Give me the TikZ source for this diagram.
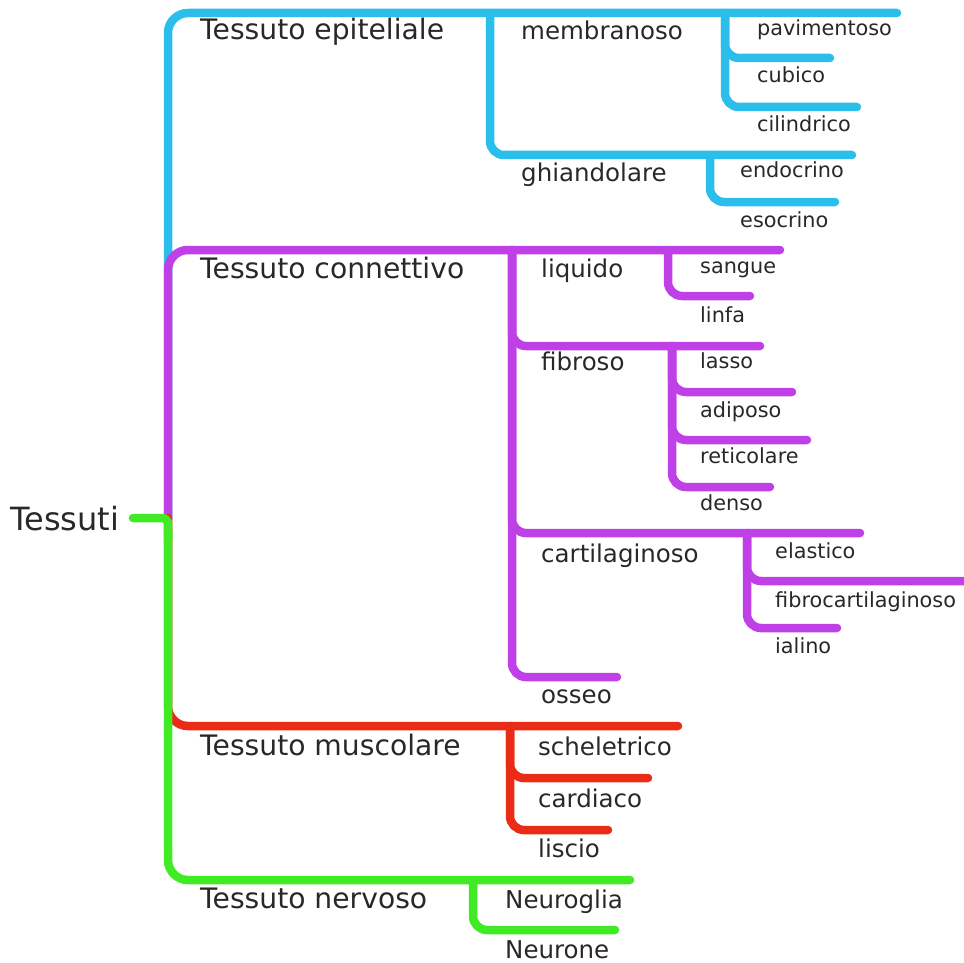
\documentclass[tikz,border=0pt]{standalone}
\usepackage{fontspec}
\setmainfont{DejaVu Sans}
\definecolor{cblue}{RGB}{44,190,234}
\definecolor{cpurple}{RGB}{190,64,230}
\definecolor{cred}{RGB}{234,44,22}
\definecolor{cgreen}{RGB}{64,234,36}
\definecolor{ctext}{RGB}{40,40,40}
\begin{document}
\begin{tikzpicture}[x=1pt,y=-1pt,
  br/.style={line width=8.5pt,line cap=round,rounded corners=14pt},
  brone/.style={br,rounded corners=20pt},
  lab/.style={anchor=base west,inner sep=0pt,text=ctext},
  lroot/.style={lab,font=\fontsize{32}{36}\selectfont},
  lone/.style={lab,font=\fontsize{28.2}{32}\selectfont},
  ltwo/.style={lab,font=\fontsize{24.5}{28}\selectfont},
  lthree/.style={lab,font=\fontsize{20.8}{24}\selectfont}]
\useasboundingbox (0,0) rectangle (964,963);
% junctions and line ends
\coordinate (stub) at (133,518);
\coordinate (J0) at (168,518);
\coordinate (J0r) at (168,518);
\coordinate (J0g) at (168,530);
\coordinate (J0s) at (168,540);
\coordinate (epiE) at (897,13);
\coordinate (memJ) at (490,13);
\coordinate (ghiE) at (852,155);
\coordinate (pavJ) at (725,13);
\coordinate (cubE) at (830,58);
\coordinate (cilE) at (857,107);
\coordinate (ghiJ) at (710,155);
\coordinate (esoE) at (835,202);
\coordinate (conE) at (780,250);
\coordinate (conJ) at (512,250);
\coordinate (liqJ) at (668,250);
\coordinate (linE) at (750,296);
\coordinate (fibE) at (760,346);
\coordinate (fibJ) at (672,346);
\coordinate (adiE) at (792,392);
\coordinate (retE) at (807,440);
\coordinate (denE) at (770,487);
\coordinate (carE) at (860,533);
\coordinate (carJ) at (747,533);
\coordinate (fcaE) at (968,581);
\coordinate (ialE) at (837,628);
\coordinate (ossE) at (617,677);
\coordinate (musE) at (678,726);
\coordinate (musJ) at (510,726);
\coordinate (carD) at (648,778);
\coordinate (lisE) at (608,830);
\coordinate (nerE) at (630,880);
\coordinate (nerJ) at (473,880);
\coordinate (neuE) at (615,930);
% branches
\draw[brone,cblue] (J0) |- (epiE);
\draw[br,cblue] (memJ) |- (ghiE);
\draw[br,cblue] (pavJ) |- (cubE);
\draw[br,cblue] (pavJ) |- (cilE);
\draw[br,cblue] (ghiJ) |- (esoE);
\draw[brone,cpurple] (J0) |- (conE);
\draw[br,cpurple] (conJ) |- (fibE);
\draw[br,cpurple] (conJ) |- (carE);
\draw[br,cpurple] (conJ) |- (ossE);
\draw[br,cpurple] (liqJ) |- (linE);
\draw[br,cpurple] (fibJ) |- (adiE);
\draw[br,cpurple] (fibJ) |- (retE);
\draw[br,cpurple] (fibJ) |- (denE);
\draw[br,cpurple] (carJ) |- (fcaE);
\draw[br,cpurple] (carJ) |- (ialE);
\draw[brone,cred] (J0r) |- (musE);
\draw[br,cred] (musJ) |- (carD);
\draw[br,cred] (musJ) |- (lisE);
\draw[brone,cgreen,rounded corners=6pt] (stub) -- (J0) -- (J0s);
\draw[brone,cgreen] (J0g) |- (nerE);
\draw[br,cgreen] (nerJ) |- (neuE);
% labels
\node[lroot] (tessuti) at (10,530) {Tessuti};
\node[lone] (epi) at (200,40) {Tessuto epiteliale};
\node[lone] (con) at (200,278) {Tessuto connettivo};
\node[lone] (mus) at (200,755) {Tessuto muscolare};
\node[lone] (ner) at (200,908) {Tessuto nervoso};
\node[ltwo] (mem) at (521,40) {membranoso};
\node[ltwo] (ghi) at (521,182) {ghiandolare};
\node[ltwo] (liq) at (541,277) {liquido};
\node[ltwo] (fib) at (541,370) {fibroso};
\node[ltwo] (car) at (541,562) {cartilaginoso};
\node[ltwo] (oss) at (541,703) {osseo};
\node[ltwo] (sch) at (538,755) {scheletrico};
\node[ltwo] (cdc) at (538,807) {cardiaco};
\node[ltwo] (lis) at (538,857) {liscio};
\node[ltwo] (ngl) at (505,908) {Neuroglia};
\node[ltwo] (nrn) at (505,958) {Neurone};
\node[lthree] (pav) at (757,36) {pavimentoso};
\node[lthree] (cub) at (757,83) {cubico};
\node[lthree] (cil) at (757,132) {cilindrico};
\node[lthree] (end) at (740,178) {endocrino};
\node[lthree] (eso) at (740,227) {esocrino};
\node[lthree] (san) at (700,273) {sangue};
\node[lthree] (lin) at (700,322) {linfa};
\node[lthree] (las) at (700,368) {lasso};
\node[lthree] (adi) at (700,417) {adiposo};
\node[lthree] (ret) at (700,463) {reticolare};
\node[lthree] (den) at (700,510) {denso};
\node[lthree] (ela) at (775,558) {elastico};
\node[lthree] (fca) at (775,607) {fibrocartilaginoso};
\node[lthree] (ial) at (775,653) {ialino};
\end{tikzpicture}
\end{document}
